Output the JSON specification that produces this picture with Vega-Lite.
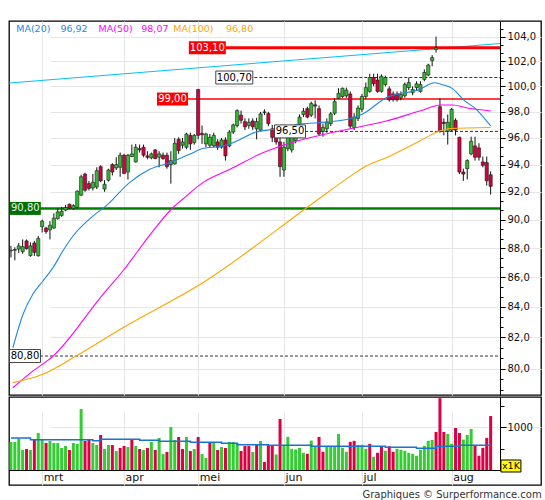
{
  "$schema": "https://vega.github.io/schema/vega-lite/v6.json",
  "background": "#ffffff",
  "padding": {"left": 6, "top": 20, "right": 0, "bottom": 0},
  "spacing": 0,
  "config": {
    "font": "DejaVu Sans",
    "view": {"stroke": "#000000", "strokeWidth": 1.3},
    "axis": {"gridColor": "#e6e6e6", "gridWidth": 1, "domainColor": "#000000", "tickColor": "#000000", "labelColor": "#111111", "labelFontSize": 10}
  },
  "title": {"text": "Graphiques © Surperformance.com", "orient": "bottom", "anchor": "end", "fontSize": 10, "fontWeight": "normal", "color": "#333333", "offset": 4},
  "datasets": {
    "candles": [
      {"i":0,"o":87.8,"h":88.15,"l":87.35,"c":87.85,"v":651,"vd":"u"},
      {"i":1,"o":87.9,"h":88.05,"l":87.15,"c":87.85,"v":651,"vd":"u"},
      {"i":2,"o":87.93,"h":88.35,"l":87.65,"c":88.15,"v":729,"vd":"u"},
      {"i":3,"o":87.75,"h":88.6,"l":87.6,"c":88.1,"v":465,"vd":"u"},
      {"i":4,"o":88.5,"h":88.6,"l":87.9,"c":87.95,"v":488,"vd":"d"},
      {"i":5,"o":87.47,"h":88.4,"l":87.4,"c":88.15,"v":465,"vd":"u"},
      {"i":6,"o":88.35,"h":88.5,"l":87.45,"c":87.7,"v":705,"vd":"d"},
      {"i":7,"o":87.47,"h":88.85,"l":87.4,"c":88.67,"v":860,"vd":"u"},
      {"i":8,"o":89.5,"h":90.0,"l":89.1,"c":89.9,"v":705,"vd":"u"},
      {"i":9,"o":89.4,"h":89.5,"l":89.0,"c":89.15,"v":628,"vd":"d"},
      {"i":10,"o":89.27,"h":89.9,"l":88.6,"c":89.6,"v":674,"vd":"u"},
      {"i":11,"o":89.4,"h":90.45,"l":89.35,"c":90.1,"v":628,"vd":"u"},
      {"i":12,"o":90.07,"h":90.8,"l":90.0,"c":90.55,"v":628,"vd":"u"},
      {"i":13,"o":90.3,"h":90.9,"l":90.2,"c":90.6,"v":512,"vd":"u"},
      {"i":14,"o":90.68,"h":91.05,"l":90.6,"c":90.87,"v":558,"vd":"u"},
      {"i":15,"o":91.1,"h":91.15,"l":90.75,"c":90.82,"v":465,"vd":"d"},
      {"i":16,"o":90.78,"h":91.1,"l":90.7,"c":91.0,"v":628,"vd":"u"},
      {"i":17,"o":90.87,"h":92.1,"l":90.8,"c":92.05,"v":605,"vd":"u"},
      {"i":18,"o":91.76,"h":93.25,"l":91.7,"c":93.1,"v":1418,"vd":"u"},
      {"i":19,"o":93.3,"h":93.4,"l":92.0,"c":92.12,"v":674,"vd":"d"},
      {"i":20,"o":92.6,"h":92.8,"l":92.1,"c":92.25,"v":705,"vd":"d"},
      {"i":21,"o":92.28,"h":93.3,"l":92.1,"c":92.7,"v":628,"vd":"u"},
      {"i":22,"o":92.35,"h":93.8,"l":92.2,"c":93.55,"v":581,"vd":"u"},
      {"i":23,"o":93.85,"h":93.95,"l":92.7,"c":92.8,"v":814,"vd":"d"},
      {"i":24,"o":92.2,"h":92.85,"l":92.0,"c":92.55,"v":488,"vd":"u"},
      {"i":25,"o":92.85,"h":93.7,"l":92.75,"c":93.6,"v":581,"vd":"u"},
      {"i":26,"o":94.0,"h":94.1,"l":93.2,"c":93.45,"v":581,"vd":"d"},
      {"i":27,"o":93.75,"h":94.55,"l":93.6,"c":94.0,"v":442,"vd":"u"},
      {"i":28,"o":93.8,"h":94.9,"l":93.1,"c":94.7,"v":512,"vd":"d"},
      {"i":29,"o":94.7,"h":94.8,"l":93.3,"c":93.35,"v":558,"vd":"d"},
      {"i":30,"o":93.45,"h":94.8,"l":92.9,"c":94.7,"v":535,"vd":"u"},
      {"i":31,"o":94.6,"h":95.5,"l":94.55,"c":94.8,"v":705,"vd":"d"},
      {"i":32,"o":94.2,"h":95.55,"l":94.15,"c":95.3,"v":558,"vd":"u"},
      {"i":33,"o":95.2,"h":95.5,"l":94.9,"c":95.1,"v":488,"vd":"d"},
      {"i":34,"o":95.3,"h":95.5,"l":94.55,"c":94.7,"v":465,"vd":"u"},
      {"i":35,"o":94.65,"h":95.0,"l":94.4,"c":94.55,"v":512,"vd":"d"},
      {"i":36,"o":94.5,"h":94.9,"l":94.4,"c":94.8,"v":651,"vd":"u"},
      {"i":37,"o":95.1,"h":95.15,"l":94.4,"c":94.45,"v":465,"vd":"d"},
      {"i":38,"o":94.55,"h":95.0,"l":93.8,"c":94.8,"v":744,"vd":"u"},
      {"i":39,"o":94.7,"h":94.9,"l":94.35,"c":94.45,"v":372,"vd":"u"},
      {"i":40,"o":94.7,"h":94.9,"l":93.7,"c":93.85,"v":419,"vd":"d"},
      {"i":41,"o":94.0,"h":95.0,"l":92.6,"c":94.3,"v":1000,"vd":"u"},
      {"i":42,"o":94.05,"h":96.0,"l":94.0,"c":95.6,"v":698,"vd":"u"},
      {"i":43,"o":95.9,"h":96.05,"l":94.8,"c":95.05,"v":767,"vd":"d"},
      {"i":44,"o":95.45,"h":96.0,"l":95.2,"c":95.7,"v":488,"vd":"d"},
      {"i":45,"o":95.3,"h":96.4,"l":95.15,"c":96.3,"v":767,"vd":"u"},
      {"i":46,"o":96.2,"h":96.4,"l":95.1,"c":95.55,"v":442,"vd":"d"},
      {"i":47,"o":95.65,"h":96.3,"l":95.5,"c":96.2,"v":488,"vd":"u"},
      {"i":48,"o":99.75,"h":99.8,"l":95.9,"c":96.2,"v":767,"vd":"d"},
      {"i":49,"o":96.35,"h":96.95,"l":95.55,"c":96.25,"v":372,"vd":"u"},
      {"i":50,"o":95.55,"h":96.4,"l":95.3,"c":96.3,"v":279,"vd":"u"},
      {"i":51,"o":95.45,"h":96.3,"l":95.3,"c":96.05,"v":651,"vd":"d"},
      {"i":52,"o":95.4,"h":96.4,"l":95.3,"c":96.2,"v":651,"vd":"u"},
      {"i":53,"o":95.7,"h":95.9,"l":95.1,"c":95.3,"v":465,"vd":"d"},
      {"i":54,"o":95.3,"h":96.0,"l":95.2,"c":95.85,"v":535,"vd":"u"},
      {"i":55,"o":95.85,"h":96.05,"l":94.3,"c":94.65,"v":512,"vd":"d"},
      {"i":56,"o":95.4,"h":96.6,"l":95.3,"c":96.45,"v":651,"vd":"u"},
      {"i":57,"o":96.45,"h":97.1,"l":96.3,"c":97.0,"v":651,"vd":"u"},
      {"i":58,"o":96.95,"h":98.2,"l":96.8,"c":98.1,"v":628,"vd":"u"},
      {"i":59,"o":97.75,"h":98.1,"l":97.1,"c":97.35,"v":442,"vd":"d"},
      {"i":60,"o":97.25,"h":97.5,"l":96.6,"c":96.85,"v":558,"vd":"d"},
      {"i":61,"o":96.95,"h":97.5,"l":96.7,"c":97.2,"v":558,"vd":"d"},
      {"i":62,"o":97.3,"h":97.5,"l":96.6,"c":96.85,"v":419,"vd":"u"},
      {"i":63,"o":96.7,"h":97.55,"l":95.9,"c":97.25,"v":581,"vd":"d"},
      {"i":64,"o":96.6,"h":98.0,"l":96.5,"c":97.85,"v":674,"vd":"u"},
      {"i":65,"o":97.95,"h":98.2,"l":97.75,"c":98.0,"v":186,"vd":"d"},
      {"i":66,"o":97.87,"h":98.0,"l":96.9,"c":97.1,"v":581,"vd":"d"},
      {"i":67,"o":96.7,"h":97.0,"l":95.7,"c":96.05,"v":578,"vd":"d"},
      {"i":68,"o":96.3,"h":96.6,"l":95.5,"c":95.7,"v":362,"vd":"u"},
      {"i":69,"o":95.7,"h":96.05,"l":93.1,"c":93.85,"v":1186,"vd":"d"},
      {"i":70,"o":93.6,"h":95.7,"l":93.1,"c":95.3,"v":578,"vd":"u"},
      {"i":71,"o":95.2,"h":96.3,"l":95.0,"c":96.05,"v":770,"vd":"u"},
      {"i":72,"o":95.1,"h":96.3,"l":94.9,"c":96.05,"v":493,"vd":"u"},
      {"i":73,"o":95.8,"h":96.9,"l":95.6,"c":96.7,"v":477,"vd":"u"},
      {"i":74,"o":96.7,"h":97.8,"l":96.5,"c":97.6,"v":516,"vd":"u"},
      {"i":75,"o":97.8,"h":98.3,"l":97.6,"c":98.05,"v":400,"vd":"u"},
      {"i":76,"o":98.25,"h":98.4,"l":97.5,"c":97.6,"v":377,"vd":"d"},
      {"i":77,"o":97.75,"h":98.8,"l":97.6,"c":98.65,"v":685,"vd":"u"},
      {"i":78,"o":98.55,"h":98.9,"l":97.5,"c":98.45,"v":554,"vd":"u"},
      {"i":79,"o":98.25,"h":98.5,"l":96.2,"c":96.3,"v":770,"vd":"d"},
      {"i":80,"o":96.5,"h":97.1,"l":96.1,"c":96.8,"v":424,"vd":"d"},
      {"i":81,"o":96.7,"h":97.5,"l":96.4,"c":97.2,"v":554,"vd":"u"},
      {"i":82,"o":97.1,"h":98.0,"l":96.9,"c":97.85,"v":554,"vd":"u"},
      {"i":83,"o":97.9,"h":99.05,"l":97.75,"c":98.8,"v":554,"vd":"u"},
      {"i":84,"o":99.05,"h":99.85,"l":99.0,"c":99.45,"v":839,"vd":"u"},
      {"i":85,"o":99.2,"h":99.9,"l":99.1,"c":99.85,"v":516,"vd":"u"},
      {"i":86,"o":99.25,"h":99.9,"l":99.1,"c":99.7,"v":424,"vd":"u"},
      {"i":87,"o":99.4,"h":99.6,"l":96.7,"c":96.9,"v":655,"vd":"d"},
      {"i":88,"o":96.8,"h":97.9,"l":96.6,"c":97.6,"v":678,"vd":"d"},
      {"i":89,"o":97.5,"h":98.5,"l":97.3,"c":98.3,"v":585,"vd":"u"},
      {"i":90,"o":98.2,"h":99.4,"l":98.0,"c":99.2,"v":585,"vd":"u"},
      {"i":91,"o":99.2,"h":100.3,"l":99.0,"c":99.9,"v":493,"vd":"u"},
      {"i":92,"o":99.6,"h":101.0,"l":99.5,"c":100.7,"v":608,"vd":"d"},
      {"i":93,"o":100.7,"h":101.0,"l":100.0,"c":100.2,"v":308,"vd":"u"},
      {"i":94,"o":100.5,"h":101.0,"l":99.5,"c":99.6,"v":400,"vd":"d"},
      {"i":95,"o":99.6,"h":100.95,"l":99.5,"c":100.8,"v":554,"vd":"d"},
      {"i":96,"o":100.15,"h":100.85,"l":100.0,"c":100.7,"v":447,"vd":"u"},
      {"i":97,"o":99.8,"h":100.0,"l":98.8,"c":98.95,"v":554,"vd":"d"},
      {"i":98,"o":99.4,"h":99.6,"l":98.8,"c":98.95,"v":424,"vd":"d"},
      {"i":99,"o":99.4,"h":99.6,"l":98.8,"c":98.95,"v":493,"vd":"u"},
      {"i":100,"o":99.1,"h":99.6,"l":98.9,"c":99.35,"v":470,"vd":"u"},
      {"i":101,"o":99.25,"h":100.3,"l":99.1,"c":100.15,"v":447,"vd":"u"},
      {"i":102,"o":99.9,"h":100.7,"l":99.7,"c":100.3,"v":400,"vd":"u"},
      {"i":103,"o":99.5,"h":100.0,"l":99.3,"c":99.75,"v":377,"vd":"u"},
      {"i":104,"o":99.9,"h":100.4,"l":99.7,"c":100.2,"v":331,"vd":"u"},
      {"i":105,"o":99.6,"h":100.4,"l":99.5,"c":100.15,"v":470,"vd":"u"},
      {"i":106,"o":100.55,"h":101.35,"l":100.4,"c":101.1,"v":562,"vd":"u"},
      {"i":107,"o":100.9,"h":101.8,"l":100.8,"c":101.7,"v":678,"vd":"u"},
      {"i":108,"o":102.05,"h":102.5,"l":101.6,"c":102.3,"v":701,"vd":"u"},
      {"i":109,"o":102.95,"h":104.0,"l":102.7,"c":103.1,"v":886,"vd":"d"},
      {"i":110,"o":98.4,"h":99.05,"l":96.4,"c":96.5,"v":1670,"vd":"d"},
      {"i":111,"o":97.2,"h":97.5,"l":96.2,"c":97.1,"v":886,"vd":"d"},
      {"i":112,"o":96.5,"h":97.8,"l":95.5,"c":97.2,"v":839,"vd":"u"},
      {"i":113,"o":96.6,"h":98.3,"l":96.5,"c":98.2,"v":608,"vd":"u"},
      {"i":114,"o":97.35,"h":97.5,"l":96.2,"c":96.6,"v":978,"vd":"d"},
      {"i":115,"o":96.05,"h":96.1,"l":93.3,"c":93.45,"v":862,"vd":"d"},
      {"i":116,"o":93.45,"h":93.7,"l":92.8,"c":93.3,"v":708,"vd":"u"},
      {"i":117,"o":93.7,"h":94.4,"l":92.9,"c":94.3,"v":816,"vd":"u"},
      {"i":118,"o":94.8,"h":96.1,"l":94.7,"c":95.75,"v":955,"vd":"u"},
      {"i":119,"o":95.4,"h":96.1,"l":94.3,"c":94.55,"v":570,"vd":"d"},
      {"i":120,"o":95.25,"h":95.6,"l":94.3,"c":94.55,"v":331,"vd":"d"},
      {"i":121,"o":94.2,"h":94.6,"l":93.8,"c":93.95,"v":516,"vd":"d"},
      {"i":122,"o":94.15,"h":94.6,"l":92.45,"c":92.8,"v":747,"vd":"d"},
      {"i":123,"o":93.25,"h":93.5,"l":91.8,"c":92.4,"v":1255,"vd":"d"}
    ],
    "ma": [
      {"ma":"MA20","i":0.5,"p":81.33},{"ma":"MA20","i":3.1,"p":83.51},{"ma":"MA20","i":5.6,"p":84.84},
      {"ma":"MA20","i":8.2,"p":85.74},{"ma":"MA20","i":10.8,"p":86.65},{"ma":"MA20","i":13.3,"p":87.79},
      {"ma":"MA20","i":15.9,"p":88.84},{"ma":"MA20","i":21.0,"p":90.25},{"ma":"MA20","i":24.4,"p":90.98},
      {"ma":"MA20","i":30.4,"p":92.67},{"ma":"MA20","i":35.6,"p":93.65},{"ma":"MA20","i":40.7,"p":94.14},
      {"ma":"MA20","i":45.8,"p":94.77},{"ma":"MA20","i":49.2,"p":95.2},{"ma":"MA20","i":54.4,"p":95.39},
      {"ma":"MA20","i":56.9,"p":95.64},{"ma":"MA20","i":62.9,"p":96.45},{"ma":"MA20","i":68.5,"p":96.7},
      {"ma":"MA20","i":73.6,"p":97.04},{"ma":"MA20","i":78.7,"p":97.16},{"ma":"MA20","i":86.4,"p":97.43},
      {"ma":"MA20","i":90.3,"p":97.86},{"ma":"MA20","i":96.2,"p":99.1},{"ma":"MA20","i":104.8,"p":99.76},
      {"ma":"MA20","i":108.6,"p":100.28},{"ma":"MA20","i":111,"p":100.1},{"ma":"MA20","i":113.3,"p":99.8},
      {"ma":"MA20","i":115.9,"p":98.98},{"ma":"MA20","i":119.3,"p":98.2},{"ma":"MA20","i":123,"p":96.92},
      {"ma":"MA50","i":0.5,"p":78.8},{"ma":"MA50","i":5.6,"p":79.84},{"ma":"MA50","i":10.8,"p":80.8},
      {"ma":"MA50","i":23.6,"p":84.84},{"ma":"MA50","i":28.7,"p":86.42},{"ma":"MA50","i":36.4,"p":89.19},
      {"ma":"MA50","i":41.5,"p":90.85},{"ma":"MA50","i":44.1,"p":91.48},{"ma":"MA50","i":49.2,"p":92.67},
      {"ma":"MA50","i":56.2,"p":93.65},{"ma":"MA50","i":64.6,"p":94.88},{"ma":"MA50","i":71.9,"p":95.64},
      {"ma":"MA50","i":80.4,"p":96.28},{"ma":"MA50","i":86.4,"p":96.66},{"ma":"MA50","i":96.2,"p":97.29},
      {"ma":"MA50","i":104.8,"p":98.07},{"ma":"MA50","i":110.3,"p":98.53},{"ma":"MA50","i":113.3,"p":98.53},
      {"ma":"MA50","i":116.7,"p":98.32},{"ma":"MA50","i":123,"p":98.07},
      {"ma":"MA100","i":0.5,"p":79.12},{"ma":"MA100","i":8.2,"p":79.65},{"ma":"MA100","i":16.7,"p":80.8},
      {"ma":"MA100","i":28.7,"p":82.63},{"ma":"MA100","i":49.2,"p":85.62},{"ma":"MA100","i":78.2,"p":91.34},
      {"ma":"MA100","i":87.7,"p":93.28},{"ma":"MA100","i":90.3,"p":93.77},{"ma":"MA100","i":96.2,"p":94.51},
      {"ma":"MA100","i":104.8,"p":95.77},{"ma":"MA100","i":109.9,"p":96.53},{"ma":"MA100","i":112.5,"p":96.71},
      {"ma":"MA100","i":123,"p":96.8}
    ],
    "malegend": [
      {"ma":"MA20","t":"MA(20)","i":1.35,"p":104.65},
      {"ma":"MA20","t":"96,92","i":12.68,"p":104.65},
      {"ma":"MA50","t":"MA(50)","i":22.47,"p":104.65},
      {"ma":"MA50","t":"98,07","i":33.42,"p":104.65},
      {"ma":"MA100","t":"MA(100)","i":41.63,"p":104.65},
      {"ma":"MA100","t":"96,80","i":55.14,"p":104.65}
    ],
    "levels": [
      {"p":103.1,"i":50.35,"t":"103,10","k":"res"},
      {"p":100.7,"i":57.27,"t":"100,70","k":"piv"},
      {"p":99.0,"i":41.42,"t":"99,00","k":"res"},
      {"p":96.5,"i":71.55,"t":"96,50","k":"piv"},
      {"p":90.8,"i":3.68,"t":"90,80","k":"sup"},
      {"p":80.8,"i":3.6,"t":"80,80","k":"piv"}
    ],
    "trend": [{"i":-0.5,"p":100.26,"i2":125.4,"p2":103.44}],
    "vma": [
      {"i":0,"v":744},{"i":5,"v":705},{"i":21,"v":682},{"i":23,"v":713},{"i":33,"v":690},
      {"i":38,"v":666},{"i":46,"v":643},{"i":54,"v":620},{"i":58,"v":589},{"i":66,"v":578},
      {"i":77,"v":555},{"i":96,"v":532},{"i":104,"v":508},{"i":109,"v":555},{"i":115,"v":578},
      {"i":123,"v":578}
    ],
    "unit": [{"i":128.2,"v":93,"t":"x1K"}]
  },
  "resolve": {"scale": {"x": "independent", "y": "independent"}},
  "vconcat": [
    {
      "width": 532,
      "height": 374,
      "encoding": {
        "x": {
          "field": "i", "type": "quantitative", "title": null,
          "scale": {"domain": [-0.5, 125.4], "range": [0, 491], "padding": 0, "nice": false, "zero": false},
          "axis": {"values": [8, 29, 48, 70, 90, 113], "labels": false, "ticks": false, "domain": false, "grid": true}
        }
      },
      "layer": [
        {
          "data": {"name": "trend"},
          "mark": {"type": "rule", "color": "#00bfff", "strokeWidth": 1},
          "encoding": {
            "x2": {"field": "i2"},
            "y": {
              "field": "p", "type": "quantitative", "title": null,
              "scale": {"type": "log", "domain": [78.35, 105.3], "nice": false},
              "axis": {
                "orient": "right", "offset": -41,
                "values": [78.667, 79.333, 80, 80.667, 81.333, 82, 82.667, 83.333, 84, 84.667, 85.333, 86, 86.667, 87.333, 88, 88.667, 89.333, 90, 90.667, 91.333, 92, 92.667, 93.333, 94, 94.667, 95.333, 96, 96.667, 97.333, 98, 98.667, 99.333, 100, 100.667, 101.333, 102, 102.667, 103.333, 104, 104.667],
                "labelExpr": "abs(datum.value - round(datum.value)) < 0.01 && round(datum.value) % 2 == 0 ? replace(format(round(datum.value), '.1f'), '.', ',') : ''",
                "tickSize": {"condition": {"test": "abs(datum.value - round(datum.value)) < 0.01 && round(datum.value) % 2 == 0", "value": 5}, "value": 3},
                "gridOpacity": {"condition": {"test": "abs(datum.value - round(datum.value)) < 0.01 && round(datum.value) % 2 == 0", "value": 1}, "value": 0},
                "labelPadding": 2, "labelOverlap": false, "labelFlush": false, "grid": true, "domain": true
              }
            },
            "y2": {"field": "p2"}
          }
        },
        {
          "data": {"name": "levels"},
          "transform": [{"filter": "datum.k == 'piv'"}],
          "mark": {"type": "rule", "color": "#333333", "strokeWidth": 1, "strokeDash": [3, 2]},
          "encoding": {
            "x2": {"datum": 125.4},
            "y": {"field": "p", "type": "quantitative", "title": null, "scale": {"type": "log", "domain": [78.35, 105.3], "nice": false}}
          }
        },
        {
          "data": {"name": "levels"},
          "transform": [{"filter": "datum.k == 'sup'"}],
          "mark": {"type": "rule", "color": "#008000", "strokeWidth": 2.5},
          "encoding": {
            "x2": {"datum": 125.4},
            "y": {"field": "p", "type": "quantitative", "title": null, "scale": {"type": "log", "domain": [78.35, 105.3], "nice": false}}
          }
        },
        {
          "data": {"name": "levels"},
          "transform": [{"filter": "datum.k == 'res'"}],
          "mark": {"type": "rule", "color": "#ff0000"},
          "encoding": {
            "x2": {"datum": 125.4},
            "y": {"field": "p", "type": "quantitative", "title": null, "scale": {"type": "log", "domain": [78.35, 105.3], "nice": false}},
            "strokeWidth": {"condition": {"test": "datum.p > 103", "value": 3}, "value": 1.5}
          }
        },
        {
          "data": {"name": "candles"},
          "mark": {"type": "rule", "color": "#111111", "strokeWidth": 1},
          "encoding": {
            "y": {"field": "l", "type": "quantitative", "title": null, "scale": {"type": "log", "domain": [78.35, 105.3], "nice": false}},
            "y2": {"field": "h"}
          }
        },
        {
          "data": {"name": "candles"},
          "mark": {"type": "bar", "width": 3.2, "orient": "vertical", "stroke": "#1a1a1a", "strokeWidth": 0.6},
          "encoding": {
            "y": {"field": "o", "type": "quantitative", "title": null, "scale": {"type": "log", "domain": [78.35, 105.3], "nice": false}},
            "y2": {"field": "c"},
            "color": {"condition": {"test": "datum.c >= datum.o", "value": "#33bb33"}, "value": "#d4003f"}
          }
        },
        {
          "data": {"name": "ma"},
          "mark": {"type": "line", "strokeWidth": 1.1, "interpolate": "monotone"},
          "encoding": {
            "y": {"field": "p", "type": "quantitative", "title": null, "scale": {"type": "log", "domain": [78.35, 105.3], "nice": false}},
            "color": {"field": "ma", "type": "nominal", "scale": {"domain": ["MA20", "MA50", "MA100"], "range": ["#1e88e5", "#ff00ff", "#ffa500"]}, "legend": null}
          }
        },
        {
          "data": {"name": "levels"},
          "mark": {"type": "point", "filled": true, "opacity": 1, "strokeWidth": 1},
          "encoding": {
            "y": {"field": "p", "type": "quantitative", "title": null, "scale": {"type": "log", "domain": [78.35, 105.3], "nice": false}},
            "shape": {"condition": {"test": "length(datum.t) > 5", "value": "M-1,-0.351L1,-0.351L1,0.351L-1,0.351Z"}, "value": "M-1,-0.419L1,-0.419L1,0.419L-1,0.419Z"},
            "size": {"condition": {"test": "length(datum.t) > 5", "value": 1369}, "value": 961},
            "fill": {"condition": [{"test": "datum.k == 'res'", "value": "#ff0000"}, {"test": "datum.k == 'sup'", "value": "#007000"}], "value": "#ffffff"},
            "stroke": {"condition": {"test": "datum.k == 'piv'", "value": "#444444"}, "value": "transparent"}
          }
        },
        {
          "data": {"name": "levels"},
          "mark": {"type": "text", "fontSize": 10, "align": "center", "baseline": "middle"},
          "encoding": {
            "y": {"field": "p", "type": "quantitative", "title": null, "scale": {"type": "log", "domain": [78.35, 105.3], "nice": false}},
            "text": {"field": "t"},
            "color": {"condition": [{"test": "datum.k == 'piv'", "value": "#000000"}, {"test": "datum.k == 'sup'", "value": "#e6f2ff"}], "value": "#ffffff"}
          }
        },
        {
          "data": {"name": "malegend"},
          "mark": {"type": "text", "fontSize": 9.5, "align": "left", "baseline": "middle"},
          "encoding": {
            "y": {"field": "p", "type": "quantitative", "title": null, "scale": {"type": "log", "domain": [78.35, 105.3], "nice": false}},
            "text": {"field": "t"},
            "color": {"field": "ma", "type": "nominal", "scale": {"domain": ["MA20", "MA50", "MA100"], "range": ["#1e88e5", "#ff00ff", "#ffa500"]}, "legend": null}
          }
        }
      ]
    },
    {
      "width": 532,
      "height": 88,
      "encoding": {
        "x": {
          "field": "i", "type": "quantitative", "title": null,
          "scale": {"domain": [-0.5, 125.4], "range": [0, 491], "padding": 0, "nice": false, "zero": false},
          "axis": {
            "orient": "bottom", "offset": -15,
            "values": [8, 29, 48, 70, 90, 113],
            "labelExpr": "['mrt','apr','mei','jun','jul','aug'][indexof([8,29,48,70,90,113], datum.value)]",
            "labelAlign": "left", "labelOffset": 1, "labelBaseline": "alphabetic", "labelPadding": 10,
            "labelFontSize": 11, "labelColor": "#111111", "labelFlush": false, "labelOverlap": false,
            "ticks": false, "tickSize": 0, "domain": true, "grid": true
          }
        }
      },
      "layer": [
        {
          "data": {"name": "candles"},
          "mark": {"type": "bar", "width": 3, "orient": "vertical"},
          "encoding": {
            "y": {
              "field": "v", "type": "quantitative", "title": null,
              "scale": {"domain": [0, 1698], "range": [73, 0], "nice": false},
              "axis": {
                "orient": "right", "offset": -41, "values": [500, 1000, 1500],
                "labelExpr": "datum.value == 1000 ? '1000' : ''",
                "tickSize": {"condition": {"test": "datum.value == 1000", "value": 6}, "value": 4},
                "gridOpacity": {"condition": {"test": "datum.value == 1000", "value": 1}, "value": 0},
                "labelPadding": 1, "labelFlush": false, "labelOverlap": false, "grid": true, "domain": true
              }
            },
            "color": {"condition": {"test": "datum.vd == 'u'", "value": "#33cc33"}, "value": "#dd0044"}
          }
        },
        {
          "data": {"name": "vma"},
          "mark": {"type": "line", "color": "#1874cd", "strokeWidth": 1.5, "interpolate": "step-after"},
          "encoding": {
            "y": {"field": "v", "type": "quantitative", "title": null, "scale": {"domain": [0, 1698], "range": [73, 0], "nice": false}}
          }
        },
        {
          "data": {"name": "unit"},
          "mark": {"type": "point", "filled": true, "opacity": 1, "fill": "#ffff00", "stroke": "#000000", "strokeWidth": 1, "shape": "M-1,-0.6L1,-0.6L1,0.6L-1,0.6Z", "size": 400},
          "encoding": {
            "y": {"field": "v", "type": "quantitative", "title": null, "scale": {"domain": [0, 1698], "range": [73, 0], "nice": false}}
          }
        },
        {
          "data": {"name": "unit"},
          "mark": {"type": "text", "fontSize": 9.5, "color": "#000000", "align": "center", "baseline": "middle"},
          "encoding": {
            "y": {"field": "v", "type": "quantitative", "title": null, "scale": {"domain": [0, 1698], "range": [73, 0], "nice": false}},
            "text": {"field": "t"}
          }
        }
      ]
    }
  ]
}
